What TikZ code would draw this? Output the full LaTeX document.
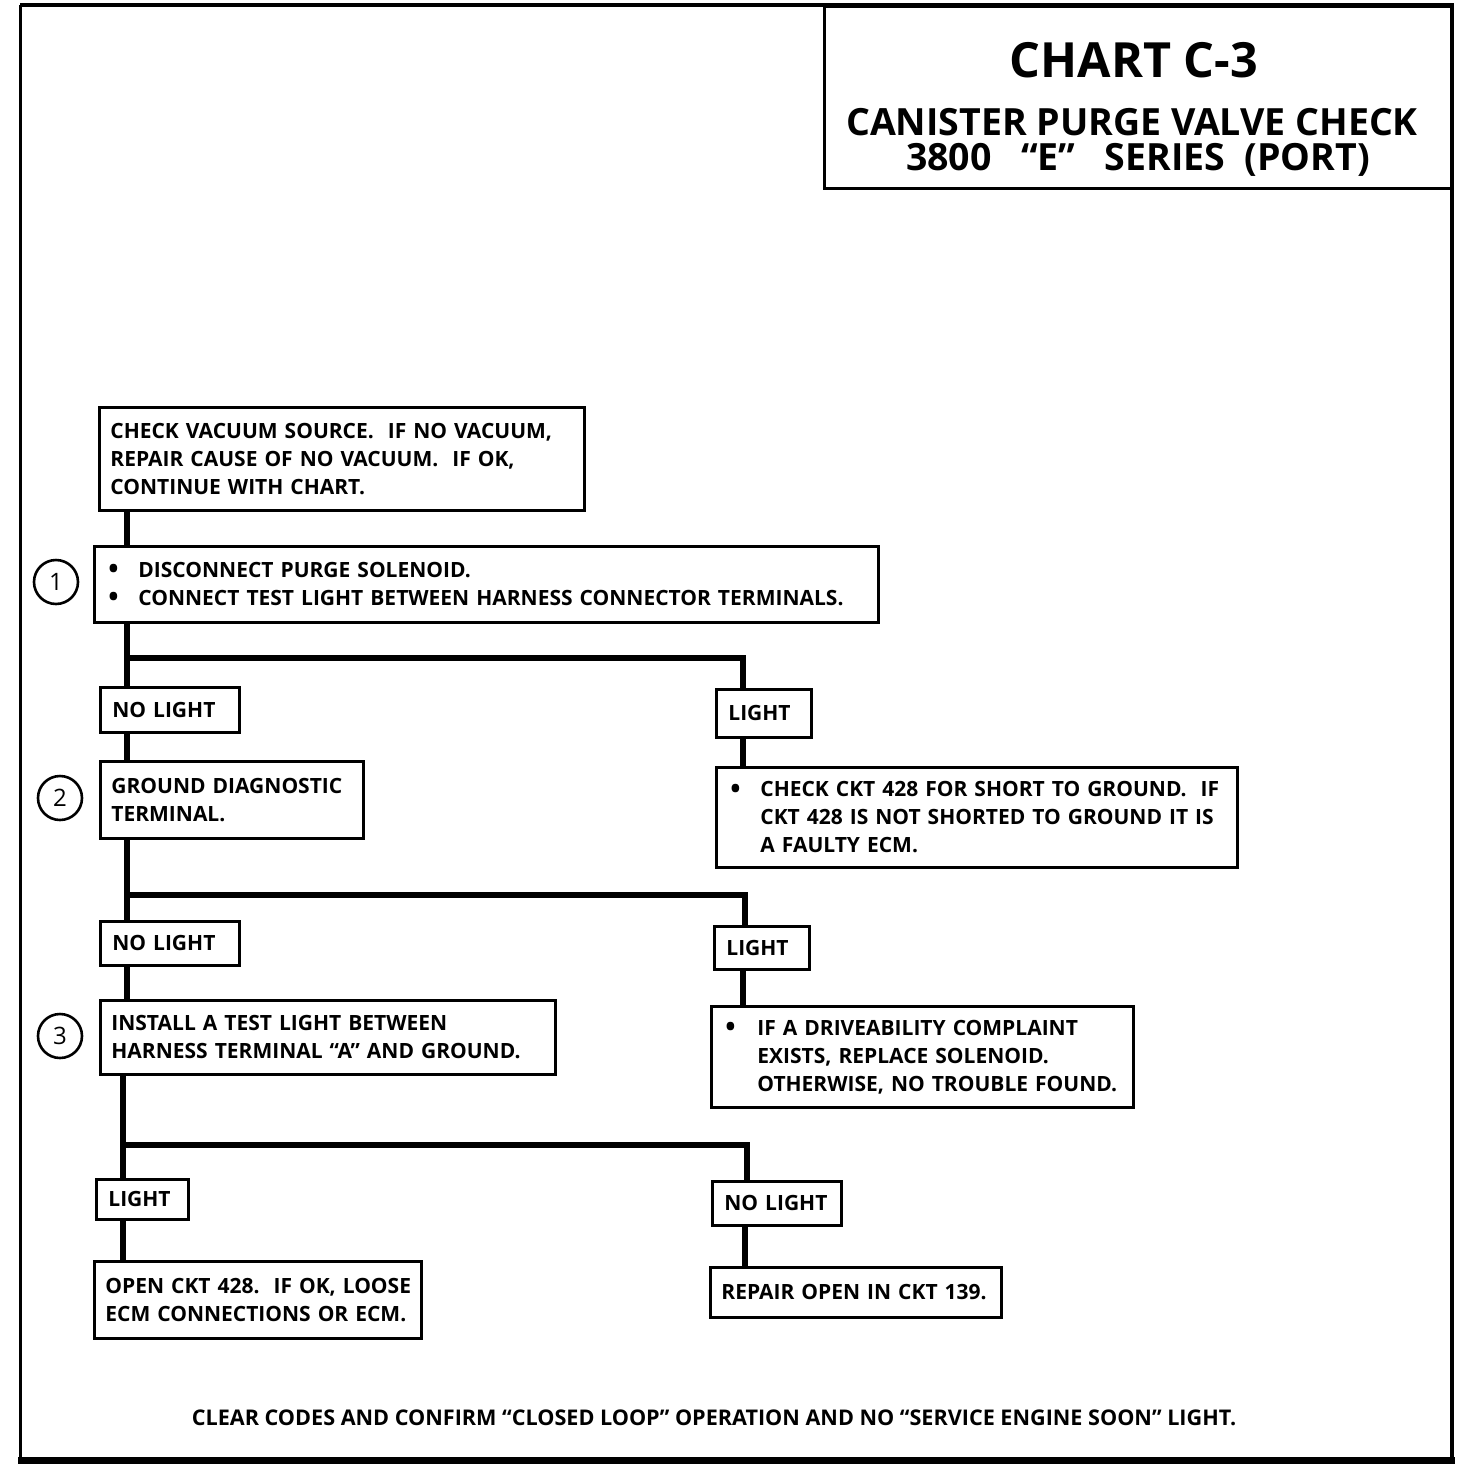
\documentclass[tikz,border=0pt]{standalone}
\usepackage{fontspec}
\setmainfont{Open Sans}
\newcommand{\tline}[1]{\mbox{#1}}
\newcommand{\bul}[1]{\makebox[#1][l]{\raisebox{-1.5pt}{\scalebox{1.3}{•}}}}
\begin{document}
\begin{tikzpicture}[x=1pt,y=-1pt,
  box/.style={draw,line width=2.8pt,anchor=north west,inner xsep=11pt,inner ysep=0pt,
    align=left,font=\fontsize{21}{28}\selectfont\bfseries},
  conn/.style={line width=5.5pt},
  num/.style={draw,circle,line width=2.6pt,minimum size=44pt,inner sep=0pt,
    font=\fontsize{24}{26}\selectfont}]
\useasboundingbox (0,0) rectangle (1472,1464);
% frame
\draw[line width=4pt] (20,5) -- (1452,5) -- (1452,1460);
\draw[line width=3pt] (20,5) -- (20,1460);
\draw[line width=7pt] (18,1460.5) -- (1455,1460.5);
% title box
\node[draw,line width=2.5pt,anchor=north west,minimum width=628pt,minimum height=181pt,inner sep=0pt] (title) at (823,6) {};
\node[font=\fontsize{48.5}{50}\selectfont\bfseries] (t1) at (1134,60) {CHART C-3};
\node[font=\fontsize{37.5}{40}\selectfont\bfseries] (t2) at (1132,122) {CANISTER PURGE VALVE CHECK};
\node[font=\fontsize{37.5}{40}\selectfont\bfseries] (t3) at (1138,160) {3800\ \ \ “E”\ \ \ SERIES\ \ (PORT)};
% spine coordinates
\coordinate (sp) at (127,0);
\coordinate (spb) at (123,0);
\coordinate (r1) at (743,0);
\coordinate (r2) at (745,0);
\coordinate (r3) at (747,0);
% boxes
\node[box,minimum width=485pt,text width=463pt,minimum height=103pt] (A) at (98,406)
  {\tline{CHECK VACUUM SOURCE.\ \ IF NO VACUUM,}\\\tline{REPAIR CAUSE OF NO VACUUM.\ \ IF OK,}\\\tline{CONTINUE WITH CHART.}};
\node[box,minimum width=784pt,text width=756pt,minimum height=76pt,inner xsep=14pt] (B1) at (93,545)
  {\tline{\bul{30pt}DISCONNECT PURGE SOLENOID.}\\\tline{\bul{30pt}CONNECT TEST LIGHT BETWEEN HARNESS CONNECTOR TERMINALS.}};
\node[num] (c1) at (56,582) {1};
\node[box,minimum width=139pt,text width=115pt,minimum height=45pt,inner xsep=12pt] (nl1) at (99,686) {\tline{NO LIGHT}};
\node[box,minimum width=95pt,text width=71pt,minimum height=48pt,inner xsep=12pt] (l1) at (715,688) {\tline{LIGHT}};
\node[box,minimum width=263pt,text width=241pt,minimum height=77pt] (B2) at (99,760)
  {\tline{GROUND DIAGNOSTIC}\\\tline{TERMINAL.}};
\node[num] (c2) at (60,798) {2};
\node[box,minimum width=521pt,text width=493pt,minimum height=100pt,inner xsep=14pt] (R1) at (715,766)
  {\tline{\bul{30pt}CHECK CKT 428 FOR SHORT TO GROUND.\ \ IF}\\\tline{\hspace*{30pt}CKT 428 IS NOT SHORTED TO GROUND IT IS}\\\tline{\hspace*{30pt}A FAULTY ECM.}};
\node[box,minimum width=139pt,text width=115pt,minimum height=44pt,inner xsep=12pt] (nl2) at (99,920) {\tline{NO LIGHT}};
\node[box,minimum width=95pt,text width=71pt,minimum height=43pt,inner xsep=12pt] (l2) at (713,925) {\tline{LIGHT}};
\node[box,minimum width=455pt,text width=433pt,minimum height=74pt] (B3) at (99,999)
  {\tline{INSTALL A TEST LIGHT BETWEEN}\\\tline{HARNESS TERMINAL “A” AND GROUND.}};
\node[num] (c3) at (60,1036) {3};
\node[box,minimum width=422pt,text width=394pt,minimum height=101pt,inner xsep=14pt] (R2) at (710,1005)
  {\tline{\bul{32pt}IF A DRIVEABILITY COMPLAINT}\\\tline{\hspace*{32pt}EXISTS, REPLACE SOLENOID.}\\\tline{\hspace*{32pt}OTHERWISE, NO TROUBLE FOUND.}};
\node[box,minimum width=92pt,text width=68pt,minimum height=40pt,inner xsep=12pt] (l3) at (95,1178) {\tline{LIGHT}};
\node[box,minimum width=129pt,text width=105pt,minimum height=44pt,inner xsep=12pt] (nl3) at (711,1180) {\tline{NO LIGHT}};
\node[box,minimum width=327pt,text width=305pt,minimum height=77pt] (B4) at (93,1260)
  {\tline{OPEN CKT 428.\ \ IF OK, LOOSE}\\\tline{ECM CONNECTIONS OR ECM.}};
\node[box,minimum width=291pt,text width=269pt,minimum height=50pt] (R3) at (709,1266)
  {\tline{REPAIR OPEN IN CKT 139.}};
\node[font=\fontsize{21.6}{22}\selectfont\bfseries] (foot) at (714,1418)
  {CLEAR CODES AND CONFIRM “CLOSED LOOP” OPERATION AND NO “SERVICE ENGINE SOON” LIGHT.};
% junctions
\coordinate (j1) at (127,658);
\coordinate (j1r) at (743,658);
\coordinate (j2) at (127,895);
\coordinate (j2r) at (745,895);
\coordinate (j3) at (123,1145);
\coordinate (j3r) at (747,1145);
% connectors
\draw[conn] (A.south -| sp) -- (B1.north -| sp);
\draw[conn] (B1.south -| sp) -- (nl1.north -| sp);
\draw[conn] (j1) -- (j1r) -- (l1.north -| j1r);
\draw[conn] (nl1.south -| sp) -- (B2.north -| sp);
\draw[conn] (l1.south -| r1) -- (R1.north -| r1);
\draw[conn] (B2.south -| sp) -- (nl2.north -| sp);
\draw[conn] (j2) -- (j2r) -- (l2.north -| j2r);
\draw[conn] (nl2.south -| sp) -- (B3.north -| sp);
\draw[conn] (l2.south -| r1) -- (R2.north -| r1);
\draw[conn] (B3.south -| spb) -- (l3.north -| spb);
\draw[conn] (j3) -- (j3r) -- (nl3.north -| j3r);
\draw[conn] (l3.south -| spb) -- (B4.north -| spb);
\draw[conn] (nl3.south -| r2) -- (R3.north -| r2);
\end{tikzpicture}
\end{document}
